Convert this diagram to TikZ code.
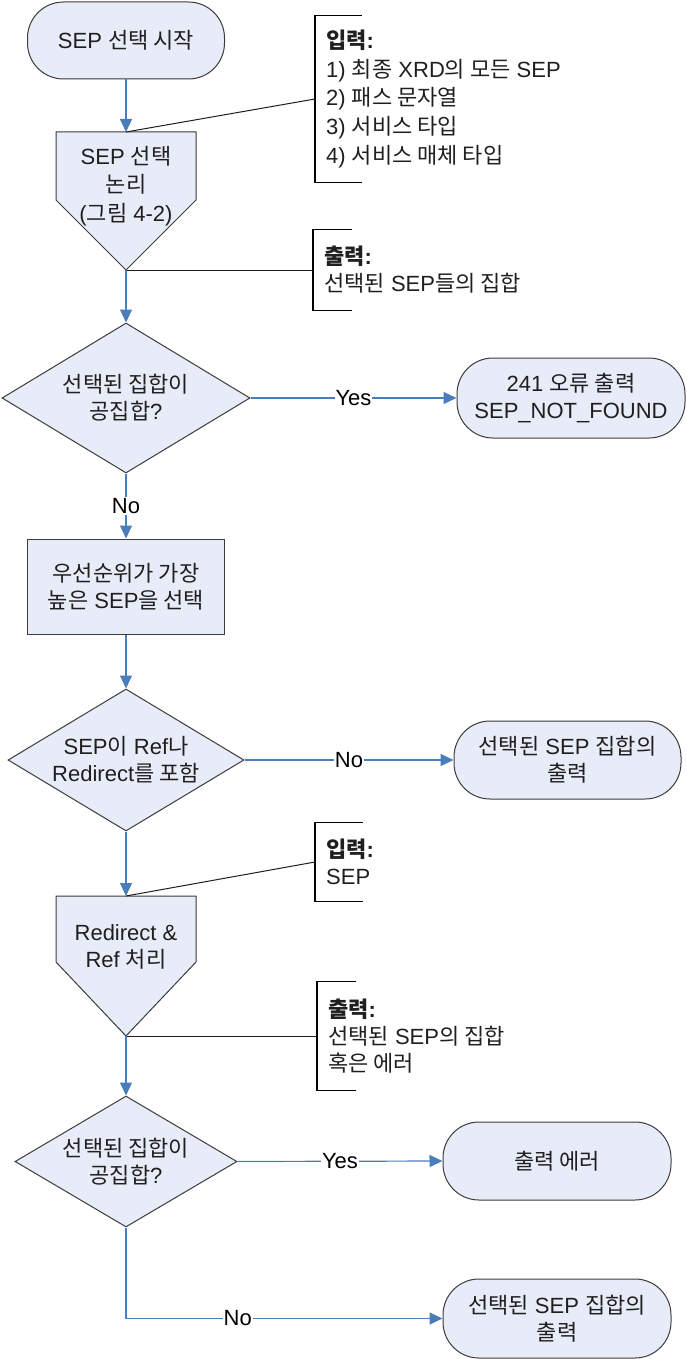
\documentclass[tikz,border=0pt]{standalone}
\usepackage{fontspec}
\setmainfont{Liberation Sans}
\newfontfamily\kr{Noto Sans CJK KR}
\usetikzlibrary{shapes.geometric,arrows.meta}
\definecolor{shapefill}{RGB}{232,236,248}
\definecolor{shapeline}{RGB}{60,60,60}
\definecolor{flowblue}{RGB}{74,126,187}
\definecolor{notegray}{RGB}{30,30,30}
\tikzset{
  base/.style={font=\fontsize{22}{27}\selectfont, text=black!88, align=center},
  pill/.style={base, draw=shapeline, fill=shapefill, line width=1pt, rounded corners=36pt, inner sep=0pt},
  procbox/.style={base, draw=shapeline, fill=shapefill, line width=1pt, inner sep=0pt},
  decision/.style={base, shape=diamond, draw=shapeline, fill=shapefill, line width=1pt, inner sep=0pt, aspect=1.65},
  shapebox/.style={draw=shapeline, fill=shapefill, line width=1pt, line join=miter},
  note/.style={base, align=left, anchor=west, inner xsep=11pt, inner ysep=0pt},
  bracketline/.style={draw=black, line width=1.3pt},
  noteline/.style={draw=notegray, line width=1pt},
  flow/.style={draw=flowblue, line width=1.2pt, -{Triangle[length=13pt,width=12pt]}},
  lbl/.style={fill=white, inner sep=1pt, font=\fontsize{22}{25}\selectfont, text=black}
}
\begin{document}
\begin{tikzpicture}[x=1pt,y=-1pt]
\useasboundingbox (0,0) rectangle (686,1359);

% start
\node[pill, minimum width=197pt, minimum height=77pt] (start) at (126,40.5) {SEP {\kr 선택 시작}};

% pentagon 1
\coordinate (p1top) at (126,132);
\coordinate (p1tip) at (126,270);
\draw[shapebox] (56,132) -- (196,132) -- (196,200) -- (p1tip) -- (56,200) -- cycle;
\node[base, font=\fontsize{22}{28.5}\selectfont] (p1) at (126,186) {SEP {\kr 선택}\\{\kr 논리}\\({\kr 그림} 4-2)};

% input note 1
\node[note, font=\fontsize{22}{28.7}\selectfont, minimum height=166pt] (in1) at (315,99)
  {{\kr\bfseries 입력}\textbf{:}\\1) {\kr 최종} XRD{\kr 의 모든} SEP\\2) {\kr 패스 문자열}\\3) {\kr 서비스 타입}\\4) {\kr 서비스 매체 타입}};
\draw[bracketline] ([xshift=47pt]in1.north west) -- (in1.north west) -- (in1.south west) -- ([xshift=47pt]in1.south west);

% output note 1
\node[note, minimum height=81pt] (out1) at (313,270) {{\kr\bfseries 출력}\textbf{:}\\{\kr 선택된} SEP{\kr 들의 집합}};
\draw[bracketline] ([xshift=39pt]out1.north west) -- (out1.north west) -- (out1.south west) -- ([xshift=39pt]out1.south west);

% decision 1
\node[decision, minimum width=248pt, minimum height=150pt] (d1) at (126,398) {{\kr 선택된 집합이}\\{\kr 공집합}?};
\node[pill, minimum width=228pt, minimum height=80pt] (err241) at (571,398) {241 {\kr 오류 출력}\\SEP\_NOT\_FOUND};

% process
\node[procbox, minimum width=197pt, minimum height=95pt] (pick) at (126,586.5) {{\kr 우선순위가 가장}\\{\kr 높은} SEP{\kr 을 선택}};

% decision 2
\node[decision, minimum width=236pt, minimum height=142pt] (d2) at (126,760) {SEP{\kr 이} Ref{\kr 나}\\Redirect{\kr 를 포함}};
\node[pill, minimum width=227pt, minimum height=78pt] (out3) at (567.5,760) {{\kr 선택된} SEP {\kr 집합의}\\{\kr 출력}};

% pentagon 2
\coordinate (p2top) at (126,896);
\coordinate (p2tip) at (126,1036);
\draw[shapebox] (56,896) -- (196,896) -- (196,962) -- (p2tip) -- (56,962) -- cycle;
\node[base] (p2) at (126,946.5) {Redirect \&\\Ref {\kr 처리}};

% input note 2
\node[note, minimum height=78pt] (in2) at (315,862) {{\kr\bfseries 입력}\textbf{:}\\SEP};
\draw[bracketline] ([xshift=48pt]in2.north west) -- (in2.north west) -- (in2.south west) -- ([xshift=48pt]in2.south west);

% output note 2
\node[note, minimum height=108pt] (out2) at (317,1036) {{\kr\bfseries 출력}\textbf{:}\\{\kr 선택된} SEP{\kr 의 집합}\\{\kr 혹은 에러}};
\draw[bracketline] ([xshift=39pt]out2.north west) -- (out2.north west) -- (out2.south west) -- ([xshift=39pt]out2.south west);

% decision 3
\node[decision, minimum width=222pt, minimum height=131pt] (d3) at (126,1161.5) {{\kr 선택된 집합이}\\{\kr 공집합}?};
\node[pill, minimum width=228pt, minimum height=78pt] (errout) at (557,1161) {{\kr 출력 에러}};
\node[pill, minimum width=228pt, minimum height=79pt] (out5) at (557,1318.5) {{\kr 선택된} SEP {\kr 집합의}\\{\kr 출력}};
\coordinate (c3) at (126,1318.5);

% note connectors
\draw[noteline] (p1top) -- (in1.west);
\draw[noteline] (p1tip) -- (out1.west);
\draw[noteline] (p2top) -- (in2.west);
\draw[noteline] (p2tip) -- (out2.west);

% flow connectors
\draw[flow] (start.south) -- (p1top);
\draw[flow] (p1tip) -- (d1.north);
\draw[flow] (d1.east) -- node[lbl]{Yes} (err241.west);
\draw[flow] (d1.south) -- node[lbl]{No} (pick.north);
\draw[flow] (pick.south) -- (d2.north);
\draw[flow] (d2.east) -- node[lbl]{No} (out3.west);
\draw[flow] (d2.south) -- (p2top);
\draw[flow] (p2tip) -- (d3.north);
\draw[flow] (d3.east) -- node[lbl]{Yes} (errout.west);
\draw[flow] (d3.south) -- (c3) -- node[lbl,pos=0.353]{No} (out5.west);
\end{tikzpicture}
\end{document}
